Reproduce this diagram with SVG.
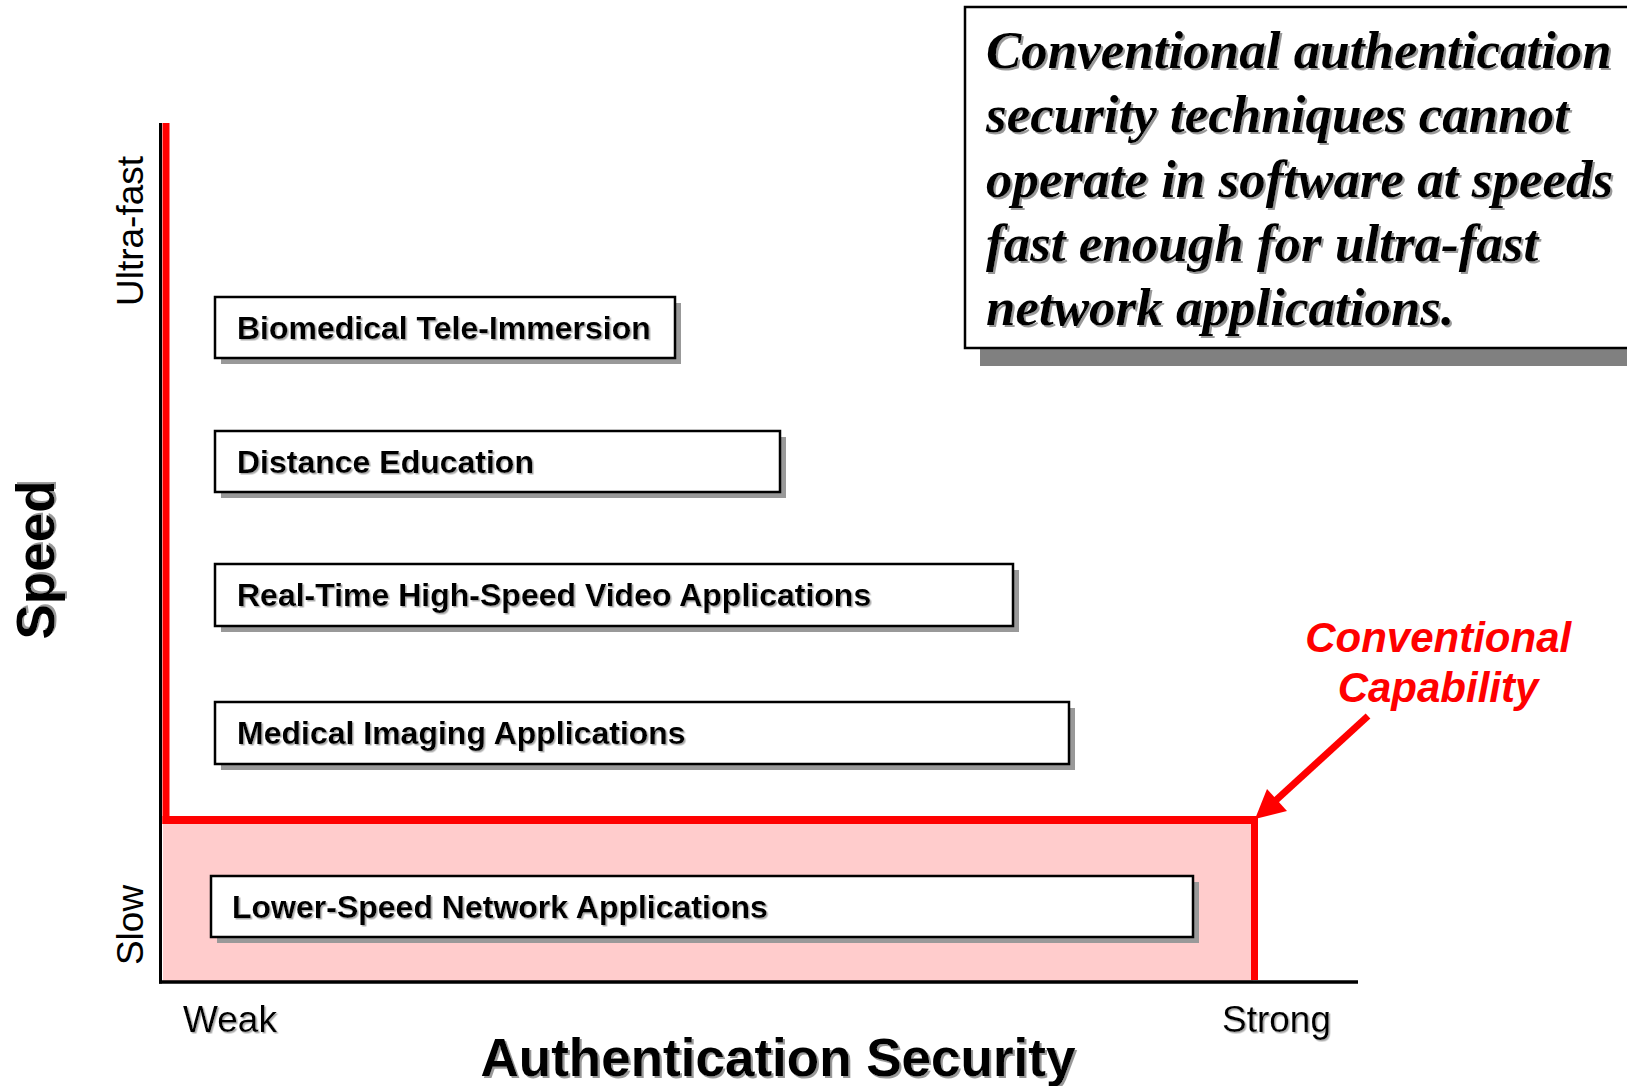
<svg xmlns="http://www.w3.org/2000/svg" width="1627" height="1086" viewBox="0 0 1627 1086">
  <defs>
    <style>
      .box { fill: #ffffff; stroke: #000000; stroke-width: 2.5; }
      .shadow { fill: #999999; }
      .label { font-family: "Liberation Sans", Arial, sans-serif; font-weight: bold; font-size: 32px; fill: #000000; }
      .tick { font-family: "Liberation Sans", Arial, sans-serif; font-size: 37px; fill: #000000; }
      .axis-title { font-family: "Liberation Sans", Arial, sans-serif; font-weight: bold; font-size: 53px; fill: #000000; }
      .note { font-family: "Liberation Serif", "Times New Roman", serif; font-weight: bold; font-style: italic; font-size: 53px; fill: #000000; }
      .cap { font-family: "Liberation Sans", Arial, sans-serif; font-weight: bold; font-style: italic; font-size: 42px; fill: #ff0000; }
    </style>
    <filter id="txtShadow" x="-5%" y="-20%" width="110%" height="150%">
      <feDropShadow dx="2" dy="2" stdDeviation="0.5" flood-color="#999999" flood-opacity="1"/>
    </filter>
    <filter id="txtShadowSmall" x="-5%" y="-20%" width="110%" height="150%">
      <feDropShadow dx="1.5" dy="1.5" stdDeviation="0.5" flood-color="#aaaaaa" flood-opacity="1"/>
    </filter>
  </defs>

  <rect x="0" y="0" width="1627" height="1086" fill="#ffffff"/>

  <!-- conventional capability region -->
  <g id="capability-region">
    <rect x="163" y="822" width="1090" height="159" fill="#ffcccc"/>
  </g>

  <!-- axes -->
  <g id="axes">
    <line x1="160.5" y1="123" x2="160.5" y2="983.5" stroke="#000000" stroke-width="3"/>
    <line x1="159" y1="982" x2="1358" y2="982" stroke="#000000" stroke-width="3.5"/>
  </g>

  <!-- capability boundary -->
  <g id="capability-boundary" fill="none" stroke="#ff0000">
    <line x1="166" y1="123" x2="166" y2="824" stroke-width="7"/>
    <line x1="162.5" y1="820" x2="1258" y2="820" stroke-width="8"/>
    <line x1="1254.5" y1="816" x2="1254.5" y2="980" stroke-width="7"/>
  </g>

  <!-- application boxes -->
  <g id="box-biomedical">
    <rect class="shadow" x="221" y="303" width="460" height="61"/>
    <rect class="box" x="215" y="297" width="460" height="61"/>
    <text class="label" x="237" y="339" filter="url(#txtShadowSmall)">Biomedical Tele-Immersion</text>
  </g>
  <g id="box-distance">
    <rect class="shadow" x="221" y="437" width="565" height="61"/>
    <rect class="box" x="215" y="431" width="565" height="61"/>
    <text class="label" x="237" y="473" filter="url(#txtShadowSmall)">Distance Education</text>
  </g>
  <g id="box-video">
    <rect class="shadow" x="221" y="570" width="798" height="62"/>
    <rect class="box" x="215" y="564" width="798" height="62"/>
    <text class="label" x="237" y="606" filter="url(#txtShadowSmall)">Real-Time High-Speed Video Applications</text>
  </g>
  <g id="box-medical">
    <rect class="shadow" x="221" y="708" width="854" height="62"/>
    <rect class="box" x="215" y="702" width="854" height="62"/>
    <text class="label" x="237" y="744" filter="url(#txtShadowSmall)">Medical Imaging Applications</text>
  </g>
  <g id="box-lowspeed">
    <rect class="shadow" x="217" y="882" width="982" height="61"/>
    <rect class="box" x="211" y="876" width="982" height="61"/>
    <text class="label" x="232" y="918" filter="url(#txtShadowSmall)">Lower-Speed Network Applications</text>
  </g>

  <!-- statement box -->
  <g id="statement">
    <rect x="980" y="348" width="660" height="18" fill="#808080"/>
    <rect x="965" y="7" width="680" height="341" fill="#ffffff" stroke="#000000" stroke-width="2.5"/>
    <text class="note" filter="url(#txtShadow)">
      <tspan x="986" y="68">Conventional authentication</tspan>
      <tspan x="986" y="132">security techniques cannot</tspan>
      <tspan x="986" y="196.5">operate in software at speeds</tspan>
      <tspan x="986" y="261">fast enough for ultra-fast</tspan>
      <tspan x="986" y="325">network applications.</tspan>
    </text>
  </g>

  <!-- callout label -->
  <g id="capability-label">
    <text class="cap" text-anchor="middle">
      <tspan x="1444" y="652">Conventional</tspan>
      <tspan x="1438" y="702">Capability</tspan>
    </text>
  </g>

  <!-- connectors -->
  <g id="connectors">
    <line x1="1368" y1="716" x2="1274" y2="802" stroke="#ff0000" stroke-width="7"/>
    <polygon points="1255,819 1267,789 1287,811" fill="#ff0000"/>
  </g>

  <!-- axis labels -->
  <g id="axis-labels">
    <text class="axis-title" text-anchor="middle" transform="translate(54,560) rotate(-90)" filter="url(#txtShadow)">Speed</text>
    <text class="tick" text-anchor="middle" transform="translate(143,231) rotate(-90)">Ultra-fast</text>
    <text class="tick" text-anchor="middle" transform="translate(143,925) rotate(-90)">Slow</text>
    <text class="tick" x="183" y="1032" filter="url(#txtShadowSmall)">Weak</text>
    <text class="tick" x="1222" y="1032" filter="url(#txtShadowSmall)">Strong</text>
    <text class="axis-title" x="778" y="1076" text-anchor="middle" filter="url(#txtShadow)">Authentication Security</text>
  </g>
</svg>
